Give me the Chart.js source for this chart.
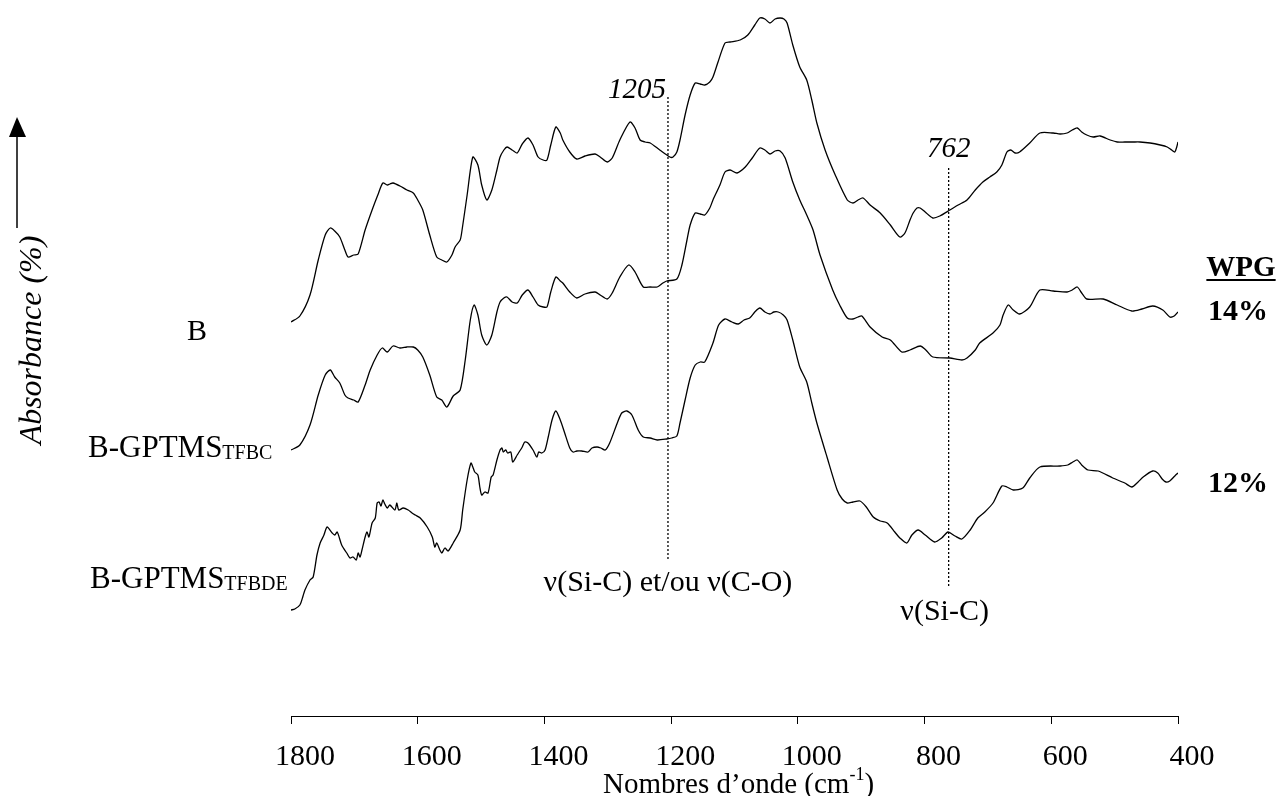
<!DOCTYPE html>
<html>
<head>
<meta charset="utf-8">
<script src="https://cdn.jsdelivr.net/npm/chart.js@4.4.1/dist/chart.umd.min.js"></script>
<style>
  html, body { margin: 0; padding: 0; background: #fff; }
</style>
</head>
<body>
<canvas id="spectra" width="1278" height="796"></canvas>
<script>
// FTIR spectra, wavenumbers in cm-1, absorbance in arbitrary (stacked) units
const bWavenumber = [1800,1786,1770,1757,1746,1738,1731,1723,1715,1710,1701,1694,1683,1672,1663,1655,1648,1644,1639,1628,1617,1607,1600,1592,1581,1570,1562,1554,1546,1541,1533,1530,1522,1513,1505,1499,1491,1483,1475,1470,1464,1459,1451,1443,1435,1426,1418,1410,1402,1396,1390,1382,1375,1371,1360,1349,1336,1320,1312,1301,1293,1281,1265,1257,1249,1241,1233,1218,1202,1197,1191,1186,1178,1170,1162,1154,1147,1139,1134,1126,1115,1107,1091,1079,1068,1060,1052,1044,1036,1028,1022,1017,1008,997,986,978,970,957,941,922,913,905,897,886,870,854,839,831,823,818,812,807,799,787,776,760,747,733,720,708,697,686,678,670,664,657,650,634,618,597,586,575,567,559,552,544,534,523,507,496,484,471,460,444,428,417,410,405,402,400];
const bAbsorbance = [3.98,4.04,4.25,4.60,4.85,4.92,4.89,4.83,4.70,4.63,4.65,4.66,4.90,5.10,5.25,5.37,5.35,5.36,5.37,5.34,5.30,5.27,5.20,5.10,4.85,4.63,4.60,4.58,4.65,4.73,4.80,4.90,5.25,5.63,5.55,5.35,5.20,5.30,5.50,5.63,5.70,5.73,5.70,5.67,5.76,5.82,5.75,5.63,5.60,5.60,5.75,5.93,5.87,5.80,5.68,5.61,5.64,5.66,5.63,5.58,5.62,5.80,5.98,5.92,5.80,5.78,5.77,5.70,5.63,5.63,5.68,5.80,6.05,6.25,6.37,6.36,6.35,6.38,6.43,6.58,6.77,6.78,6.80,6.85,6.95,7.02,7.01,6.97,7.01,7.02,7.01,6.97,6.75,6.53,6.40,6.20,5.97,5.70,5.45,5.20,5.17,5.20,5.22,5.15,5.07,4.95,4.83,4.87,5.00,5.07,5.12,5.12,5.08,5.02,5.04,5.10,5.15,5.20,5.30,5.38,5.43,5.48,5.55,5.68,5.70,5.67,5.68,5.77,5.87,5.87,5.86,5.87,5.90,5.92,5.88,5.85,5.83,5.84,5.80,5.78,5.78,5.78,5.78,5.77,5.75,5.73,5.70,5.68,5.73,5.78];

const tfbcWavenumber = [1800,1786,1770,1757,1746,1738,1731,1723,1715,1710,1701,1694,1683,1675,1664,1656,1648,1639,1628,1617,1607,1600,1592,1581,1570,1562,1554,1544,1533,1525,1517,1511,1505,1499,1491,1483,1475,1470,1464,1459,1451,1443,1435,1426,1418,1410,1402,1396,1390,1382,1375,1371,1360,1349,1336,1320,1312,1301,1293,1281,1267,1257,1244,1233,1222,1213,1207,1191,1183,1175,1170,1162,1154,1147,1139,1134,1123,1115,1107,1096,1083,1072,1060,1052,1044,1036,1028,1020,1008,997,986,976,965,945,934,922,913,905,899,886,867,854,836,823,807,798,787,760,741,733,720,713,692,681,676,668,660,650,634,618,597,575,567,559,552,544,518,496,473,457,440,424,413,406,400];
const tfbcAbsorbance = [2.70,2.75,2.95,3.25,3.45,3.50,3.43,3.37,3.25,3.22,3.20,3.18,3.35,3.50,3.65,3.72,3.68,3.74,3.72,3.73,3.73,3.70,3.63,3.45,3.23,3.20,3.13,3.24,3.30,3.60,4.00,4.15,4.05,3.85,3.75,3.85,4.08,4.18,4.22,4.23,4.18,4.17,4.25,4.30,4.23,4.15,4.13,4.13,4.28,4.43,4.39,4.37,4.28,4.22,4.26,4.28,4.25,4.21,4.27,4.43,4.55,4.48,4.33,4.33,4.33,4.37,4.39,4.41,4.55,4.80,4.95,5.07,5.06,5.05,5.12,5.20,5.35,5.48,5.50,5.47,5.53,5.62,5.72,5.70,5.66,5.69,5.69,5.62,5.38,5.20,5.05,4.90,4.65,4.30,4.15,4.02,4.01,4.03,4.04,3.93,3.83,3.80,3.68,3.70,3.74,3.70,3.63,3.62,3.60,3.62,3.70,3.77,3.87,3.95,4.05,4.15,4.10,4.06,4.13,4.30,4.29,4.28,4.30,4.33,4.27,4.21,4.21,4.15,4.09,4.11,4.14,4.10,4.03,4.04,4.08];

const tfbdeWavenumber = [1800,1794,1786,1781,1778,1770,1765,1759,1754,1748,1743,1735,1731,1727,1720,1712,1707,1702,1697,1694,1691,1688,1683,1680,1677,1672,1667,1664,1661,1658,1655,1652,1648,1644,1636,1633,1630,1623,1615,1609,1604,1596,1585,1577,1573,1570,1565,1562,1557,1552,1544,1533,1529,1522,1516,1513,1510,1505,1502,1499,1494,1489,1484,1481,1475,1470,1467,1465,1461,1458,1453,1450,1443,1435,1431,1426,1418,1412,1409,1404,1399,1394,1388,1382,1375,1368,1360,1355,1349,1341,1331,1325,1317,1311,1304,1297,1285,1278,1270,1262,1252,1244,1233,1222,1207,1199,1191,1186,1178,1170,1162,1154,1147,1134,1125,1115,1104,1094,1085,1076,1068,1060,1052,1044,1038,1031,1023,1017,1008,997,986,978,970,954,938,930,922,913,902,892,881,870,859,847,839,828,820,810,799,784,773,763,752,741,728,716,705,692,678,670,660,645,634,618,586,574,566,559,552,542,526,503,484,473,463,455,440,432,425,419,413,405,400];
const tfbdeAbsorbance = [1.10,1.11,1.15,1.24,1.30,1.40,1.43,1.65,1.77,1.85,1.93,1.87,1.85,1.88,1.75,1.67,1.62,1.63,1.60,1.67,1.63,1.70,1.83,1.88,1.83,1.97,2.02,2.17,2.18,2.14,2.20,2.16,2.12,2.15,2.10,2.17,2.10,2.12,2.10,2.07,2.05,2.02,1.93,1.83,1.73,1.77,1.70,1.67,1.72,1.69,1.77,1.90,2.10,2.40,2.57,2.53,2.48,2.45,2.33,2.25,2.28,2.27,2.43,2.45,2.60,2.70,2.72,2.68,2.70,2.67,2.68,2.58,2.65,2.73,2.78,2.77,2.70,2.63,2.68,2.67,2.70,2.83,3.00,3.09,3.00,2.87,2.72,2.68,2.69,2.69,2.68,2.72,2.73,2.72,2.70,2.77,2.97,3.07,3.09,3.05,2.90,2.83,2.82,2.80,2.81,2.82,2.84,2.97,3.20,3.42,3.55,3.58,3.58,3.77,3.95,4.01,3.98,3.96,4.00,4.02,4.08,4.12,4.08,4.06,4.08,4.08,4.05,4.00,3.80,3.53,3.38,3.17,2.97,2.63,2.30,2.21,2.17,2.18,2.19,2.13,2.03,1.99,1.97,1.88,1.82,1.77,1.85,1.90,1.85,1.78,1.82,1.88,1.84,1.81,1.90,2.02,2.08,2.17,2.34,2.33,2.30,2.32,2.42,2.53,2.54,2.55,2.58,2.60,2.55,2.50,2.49,2.42,2.37,2.33,2.38,2.43,2.49,2.47,2.41,2.38,2.39,2.44,2.47];

// marked bands (dotted lines) and their vertical extent
const bandWavenumbers = [1205, 762];
const bandTop = [6.23, 5.52];
const bandBottom = [1.60, 1.32];
const bandLabels = ['1205', '762'];

const xMin = 400, xMax = 1800, xStep = 200;

const serif = "'Liberation Serif', 'Times New Roman', serif";

function toPoints(xs, ys) {
  return xs.map((x, i) => ({ x: x, y: ys[i] }));
}

const spectrumStyle = {
  borderColor: '#000',
  borderWidth: 1.3,
  pointRadius: 0,
  tension: 0.25,
  fill: false
};

const datasets = [
  Object.assign({ label: 'B', data: toPoints(bWavenumber, bAbsorbance) }, spectrumStyle),
  Object.assign({ label: 'B-GPTMS TFBC', data: toPoints(tfbcWavenumber, tfbcAbsorbance) }, spectrumStyle),
  Object.assign({ label: 'B-GPTMS TFBDE', data: toPoints(tfbdeWavenumber, tfbdeAbsorbance) }, spectrumStyle)
];

bandWavenumbers.forEach((w, i) => {
  datasets.push({
    label: 'band ' + bandLabels[i],
    data: [{ x: w, y: bandTop[i] }, { x: w, y: bandBottom[i] }],
    borderColor: '#000',
    borderWidth: 1.3,
    borderDash: [2, 2],
    pointRadius: 0,
    tension: 0
  });
});

function drawWithSub(ctx, text, sub, x, y, size, subSize) {
  ctx.textAlign = 'left';
  ctx.font = size + 'px ' + serif;
  ctx.fillText(text, x, y);
  const w = ctx.measureText(text).width;
  ctx.font = subSize + 'px ' + serif;
  ctx.fillText(sub, x + w, y + 2);
}

const annotations = {
  id: 'annotations',
  afterDraw(chart) {
    const { ctx } = chart;
    const x = chart.scales.x;
    ctx.save();
    ctx.fillStyle = '#000';
    ctx.strokeStyle = '#000';
    ctx.textBaseline = 'alphabetic';

    // band labels
    ctx.font = 'italic 29px ' + serif;
    ctx.textAlign = 'right';
    ctx.fillText(bandLabels[0], x.getPixelForValue(bandWavenumbers[0]) - 2, 98);
    ctx.textAlign = 'center';
    ctx.fillText(bandLabels[1], x.getPixelForValue(bandWavenumbers[1]), 157);

    ctx.font = '30px ' + serif;
    ctx.fillText('\u03bd(Si-C) et/ou \u03bd(C-O)', x.getPixelForValue(bandWavenumbers[0]), 591);
    ctx.fillText('\u03bd(Si-C)', x.getPixelForValue(bandWavenumbers[1]) - 4, 620);

    // sample names
    ctx.font = '30px ' + serif;
    ctx.textAlign = 'center';
    ctx.fillText('B', 197, 340);
    drawWithSub(ctx, 'B-GPTMS', 'TFBC', 88, 457, 31, 20);
    drawWithSub(ctx, 'B-GPTMS', 'TFBDE', 90, 588, 31, 20);

    // WPG column
    ctx.font = 'bold 29px ' + serif;
    ctx.textAlign = 'center';
    ctx.fillText('WPG', 1241, 276);
    const ww = ctx.measureText('WPG').width;
    ctx.fillRect(1241 - ww / 2, 279, ww, 2);
    ctx.font = 'bold 30px ' + serif;
    ctx.fillText('14%', 1238, 320);
    ctx.fillText('12%', 1238, 492);

    // y label with arrow
    ctx.save();
    ctx.translate(41, 340);
    ctx.rotate(-Math.PI / 2);
    ctx.font = 'italic 32px ' + serif;
    ctx.textAlign = 'center';
    ctx.fillText('Absorbance (%)', 0, 0);
    ctx.restore();
    ctx.lineWidth = 1.5;
    ctx.beginPath();
    ctx.moveTo(17, 228);
    ctx.lineTo(17, 134);
    ctx.stroke();
    ctx.beginPath();
    ctx.moveTo(17, 117);
    ctx.lineTo(9, 137);
    ctx.lineTo(26, 137);
    ctx.closePath();
    ctx.fill();

    // x axis title with superscript
    const cx = (chart.chartArea.left + chart.chartArea.right) / 2;
    const t1 = 'Nombres d\u2019onde (cm', sup = '-1', t2 = ')';
    ctx.font = '29px ' + serif;
    const w1 = ctx.measureText(t1).width, w3 = ctx.measureText(t2).width;
    ctx.font = '18px ' + serif;
    const w2 = ctx.measureText(sup).width;
    let sx = cx - (w1 + w2 + w3) / 2 + 4;
    ctx.textAlign = 'left';
    ctx.font = '29px ' + serif;
    ctx.fillText(t1, sx, 793);
    ctx.font = '18px ' + serif;
    ctx.fillText(sup, sx + w1, 780);
    ctx.font = '29px ' + serif;
    ctx.fillText(t2, sx + w1 + w2, 793);
    ctx.restore();
  }
};

new Chart(document.getElementById('spectra'), {
  type: 'line',
  data: { datasets: datasets },
  options: {
    responsive: false,
    animation: false,
    devicePixelRatio: 1,
    layout: { padding: { left: 291, right: 100, top: 0, bottom: 0 } },
    plugins: { legend: { display: false }, tooltip: { enabled: false }, title: { display: false } },
    scales: {
      x: {
        type: 'linear',
        reverse: true,
        min: xMin,
        max: xMax,
        afterFit(scale) { scale.height = 80; },
        ticks: {
          stepSize: xStep,
          color: '#000',
          font: { family: serif, size: 30 },
          padding: 15,
          labelOffset: 14,
          maxRotation: 0,
          callback: (value) => String(value)
        },
        grid: { drawOnChartArea: false, drawTicks: true, tickLength: 8, color: '#000' },
        border: { display: true, color: '#000', width: 1 }
      },
      y: {
        display: false,
        min: 0.04,
        max: 7.2
      }
    }
  },
  plugins: [annotations]
});
</script>
</body>
</html>
